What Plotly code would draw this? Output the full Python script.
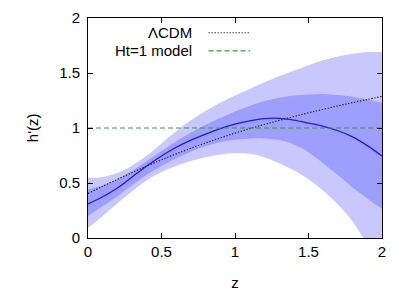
import plotly.graph_objects as go

# ---- data ----
z = [0.0, 0.1, 0.2, 0.3, 0.4, 0.5, 0.6, 0.7, 0.8, 0.9, 1.0,
     1.1, 1.2, 1.3, 1.4, 1.5, 1.6, 1.7, 1.8, 1.9, 2.0]

mean_h = [0.31, 0.375, 0.455, 0.555, 0.655, 0.745, 0.825, 0.89, 0.945, 0.995, 1.035,
          1.065, 1.085, 1.088, 1.072, 1.045, 1.015, 0.975, 0.92, 0.84, 0.745]

lcdm_h = [0.405, 0.470, 0.533, 0.595, 0.655, 0.711, 0.765, 0.816, 0.864, 0.910, 0.953,
          0.994, 1.032, 1.069, 1.104, 1.138, 1.170, 1.201, 1.231, 1.259, 1.287]

ht1_h = [1.0] * len(z)

outer_up = [0.545, 0.555, 0.59, 0.66, 0.75, 0.86, 0.97, 1.07, 1.155, 1.23, 1.295,
            1.355, 1.415, 1.47, 1.52, 1.57, 1.615, 1.65, 1.675, 1.69, 1.69]
outer_lo = [0.09, 0.20, 0.315, 0.425, 0.525, 0.60, 0.655, 0.70, 0.735, 0.76, 0.77,
            0.765, 0.735, 0.68, 0.615, 0.535, 0.43, 0.305, 0.15, -0.06, -0.28]

inner_up = [0.44, 0.48, 0.535, 0.61, 0.70, 0.79, 0.88, 0.96, 1.03, 1.09, 1.15,
            1.20, 1.245, 1.275, 1.295, 1.305, 1.31, 1.30, 1.285, 1.26, 1.23]
inner_lo = [0.20, 0.29, 0.38, 0.48, 0.575, 0.655, 0.725, 0.785, 0.835, 0.87, 0.893,
            0.905, 0.905, 0.89, 0.85, 0.78, 0.68, 0.57, 0.46, 0.36, 0.265]

x_ticks = [0, 0.5, 1, 1.5, 2]
y_ticks = [0, 0.5, 1, 1.5, 2]

legend_labels = ["\u039bCDM", "Ht=1 model"]
x_title = "z"
y_title = "h'(z)"

# ---- styles ----
FONT = "Liberation Sans, Arial, sans-serif"
OUTER_C = "#c8c8ff"
INNER_C = "#9e9eff"
MEAN_C = "#1a1aee"
GREEN_C = "#3a9a3a"

fig = go.Figure()

fig.add_trace(go.Scatter(x=z, y=outer_lo, mode="lines", line=dict(width=0, shape="spline"),
                         showlegend=False, hoverinfo="skip"))
fig.add_trace(go.Scatter(x=z, y=outer_up, mode="lines", line=dict(width=0, shape="spline"),
                         fill="tonexty", fillcolor=OUTER_C, showlegend=False, hoverinfo="skip"))
fig.add_trace(go.Scatter(x=z, y=inner_lo, mode="lines", line=dict(width=0, shape="spline"),
                         showlegend=False, hoverinfo="skip"))
fig.add_trace(go.Scatter(x=z, y=inner_up, mode="lines", line=dict(width=0, shape="spline"),
                         fill="tonexty", fillcolor=INNER_C, showlegend=False, hoverinfo="skip"))

fig.add_trace(go.Scatter(x=z, y=mean_h, mode="lines",
                         line=dict(color=MEAN_C, width=1.3, shape="spline"), showlegend=False))
fig.add_trace(go.Scatter(x=z, y=lcdm_h, mode="lines",
                         line=dict(color="#222222", width=1.2, dash="1.3px,1.7px", shape="spline"),
                         showlegend=False))
fig.add_trace(go.Scatter(x=z, y=ht1_h, mode="lines",
                         line=dict(color=GREEN_C, width=1.2, dash="5px,3px"), showlegend=False))

# manual gnuplot-style key: right-aligned text, sample line on the right
key_y = [0.933, 0.851]
key_styles = [dict(color="#222222", width=1.2, dash="1.3px,1.7px"),
              dict(color=GREEN_C, width=1.2, dash="5px,3px")]
for lab, ky, st in zip(legend_labels, key_y, key_styles):
    fig.add_annotation(x=0.362, y=ky, xref="paper", yref="paper", text=lab,
                       showarrow=False, xanchor="right", yanchor="middle",
                       font=dict(family=FONT, size=15, color="#000000"))
    fig.add_shape(type="line", xref="paper", yref="paper", x0=0.41, x1=0.552, y0=ky, y1=ky,
                  line=st)

# y-axis title placed like gnuplot's (closer to the tick labels)
fig.add_annotation(x=-0.19, y=0.5, xref="paper", yref="paper", text=y_title,
                   showarrow=False, textangle=-90, xanchor="center", yanchor="middle",
                   font=dict(family=FONT, size=15, color="#000000"))

axis_common = dict(
    showgrid=False, zeroline=False, showline=True, linecolor="#000000", linewidth=1,
    mirror="allticks", ticks="inside", ticklen=5, tickwidth=1, tickcolor="#000000",
    tickfont=dict(family=FONT, size=15, color="#000000"),
)

fig.update_xaxes(range=[0, 2], tickvals=x_ticks, ticktext=[str(v) for v in x_ticks],
                 title=dict(text=x_title, font=dict(family=FONT, size=15, color="#000000"), standoff=18),
                 **axis_common)
fig.update_yaxes(range=[0, 2], tickvals=y_ticks, ticktext=[str(v) for v in y_ticks],
                 ticklabelstandoff=4,
                 **axis_common)

# page body has an ~8px default margin, so the figure is drawn 8px smaller
fig.update_layout(
    width=407, height=283,
    margin=dict(l=80, r=33, t=10, b=53, autoexpand=False),
    plot_bgcolor="#ffffff", paper_bgcolor="#ffffff",
    showlegend=False,
)

fig.write_html("out.html")
